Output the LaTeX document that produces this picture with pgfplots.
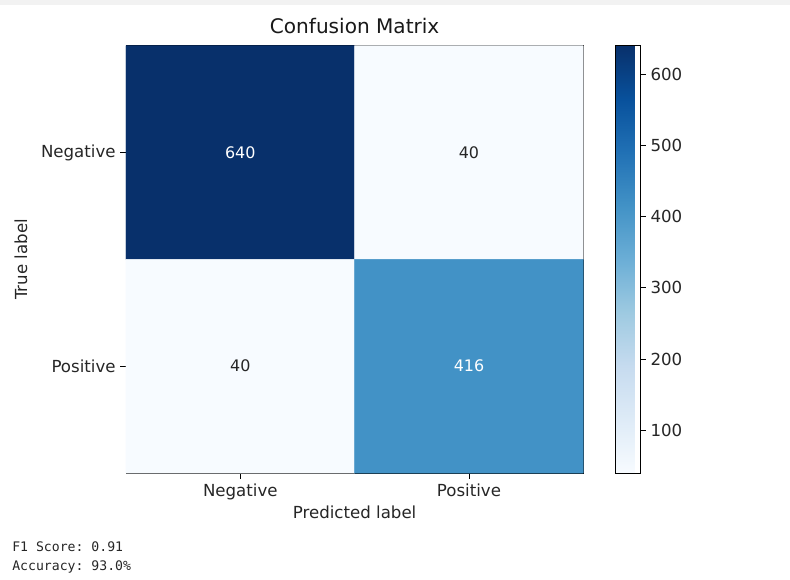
\documentclass[border=0pt]{standalone}
\usepackage{fontspec}
\setmainfont{DejaVu Sans}
\setmonofont{DejaVu Sans Mono}
\usepackage{pgfplots}
\pgfplotsset{compat=1.18}
\pgfplotsset{colormap={Blues}{rgb255=(247,251,255) rgb255=(222,235,247) rgb255=(198,219,239) rgb255=(158,202,225) rgb255=(107,174,214) rgb255=(66,146,198) rgb255=(33,113,181) rgb255=(8,81,156) rgb255=(8,48,107)}}
\begin{document}
\begin{tikzpicture}[x=0.01in,y=0.01in]
\path[use as bounding box, fill=white] (-126,-107) rectangle (664,473);
\fill[gray!10] (-126,468) rectangle (664,473);
\begin{axis}[
  at={(0,0)}, anchor=south west,
  scale only axis, width=4.57in, height=4.27in,
  xmin=-0.5, xmax=1.5, ymin=-0.5, ymax=1.5, y dir=reverse,
  xtick={0,1}, ytick={0,1},
  xticklabels={Negative,Positive}, yticklabels={Negative,Positive},
  tick align=outside, tick pos=left, major tick length=4pt,
  tick style={black, line width=0.6pt},
  axis line style={line width=0.6pt},
  ticklabel style={font=\fontsize{12}{14}\selectfont, text=black!85},
  label style={font=\fontsize{12}{14}\selectfont, text=black!85},
  xlabel style={yshift=2pt},
  ylabel style={yshift=3pt},
  title style={font=\fontsize{14.5}{17}\selectfont, text=black!90, yshift=-1pt},
  title={Confusion Matrix},
  xlabel={Predicted label}, ylabel={True label},
  colormap name=Blues, point meta min=40, point meta max=640,
  colorbar,
  colorbar style={
    at={(parent axis.north east)}, anchor=north west, xshift=0.20in,
    width=0.25in,
    ytick={100,200,300,400,500,600},
    ytick pos=right, yticklabel pos=right,
    tick align=outside, major tick length=4pt,
    tick style={black, line width=0.6pt},
    axis line style={line width=0.6pt},
    yticklabel style={font=\fontsize{12}{14}\selectfont, text=black!85, /pgf/number format/assume math mode=true},
  },
]
\addplot[matrix plot*, mesh/cols=2, point meta=explicit] coordinates {(0,0)[640] (1,0)[40] (0,1)[40] (1,1)[416]};
\addplot[draw=none, mark=none, nodes near coords, point meta=explicit symbolic,
  nodes near coords align={center},
  nodes near coords style={text=white, anchor=center, font=\fontsize{11.5}{13}\selectfont}] coordinates {(0,0)[640] (1,1)[416]};
\addplot[draw=none, mark=none, nodes near coords, point meta=explicit symbolic,
  nodes near coords align={center},
  nodes near coords style={text=black!85, anchor=center, font=\fontsize{11.5}{13}\selectfont}] coordinates {(1,0)[40] (0,1)[40]};
\end{axis}
\node[anchor=west, font=\ttfamily\fontsize{9.5}{11}\selectfont, text=black!85, inner sep=0pt] at (-114,-74) {F1 Score: 0.91};
\node[anchor=west, font=\ttfamily\fontsize{9.5}{11}\selectfont, text=black!85, inner sep=0pt] at (-114,-94) {Accuracy: 93.0\%};
\end{tikzpicture}
\end{document}
